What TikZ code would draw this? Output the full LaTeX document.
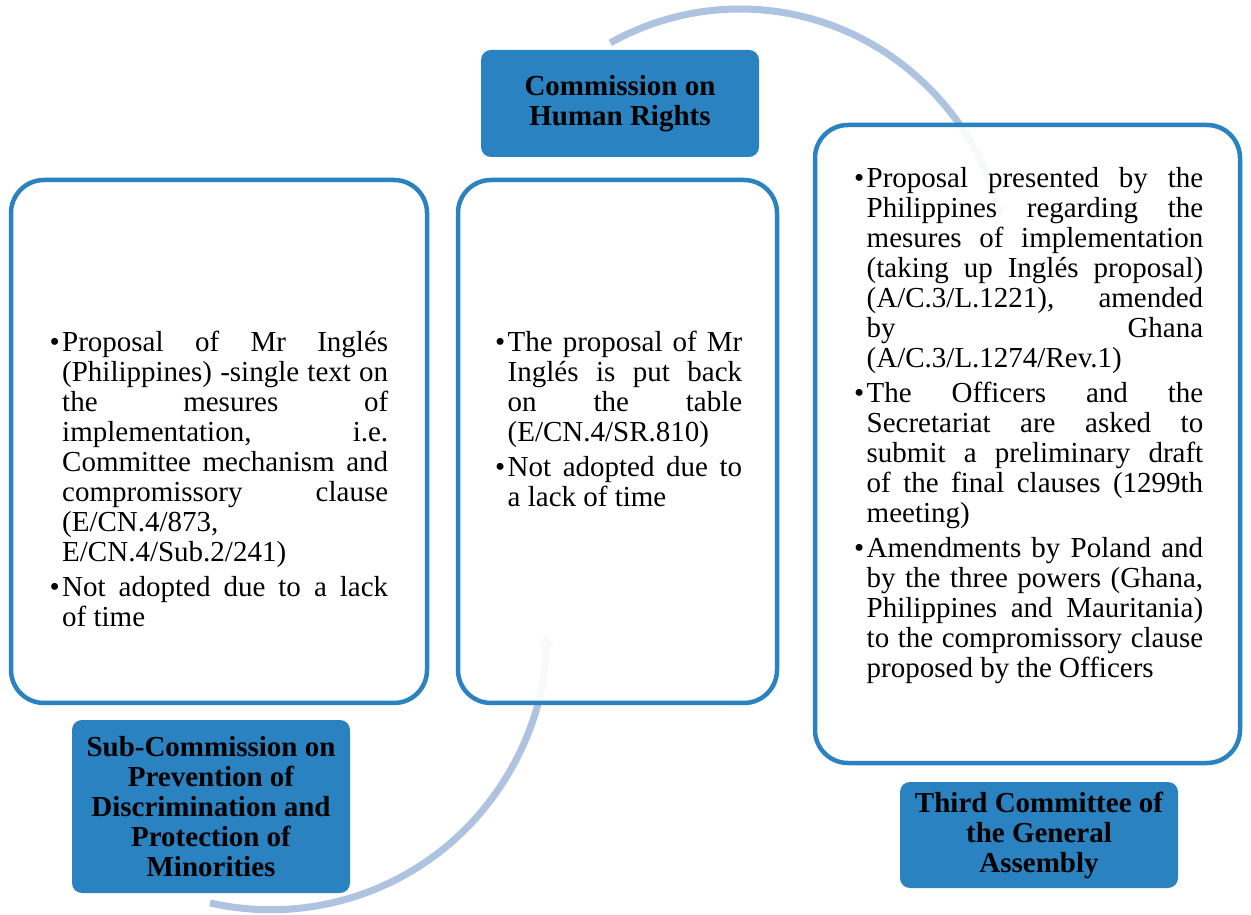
\documentclass[tikz,border=0pt]{standalone}
\usepackage{fontspec}
\setmainfont{Liberation Serif}
\usetikzlibrary{arrows.meta}
\definecolor{bord}{RGB}{42,130,192}
\definecolor{arcc}{RGB}{174,195,223}
\newlength\hangw
\setlength\hangw{12.5pt}
\newcommand\Jl[1]{\hbox to \hsize{\hskip\hangw\hbox to \dimexpr\hsize-\hangw\relax{\frenchspacing\spaceskip=.25em plus 1fil minus .05em\relax #1}}}
\newcommand\Nl[1]{\hbox to \hsize{\hskip\hangw #1\hfil}}
\newcommand\Bj[1]{\hbox to \hsize{\hbox to \hangw{•\hfil}\hbox to \dimexpr\hsize-\hangw\relax{\frenchspacing\spaceskip=.25em plus 1fil minus .05em\relax #1}}}
\begin{document}
\begin{tikzpicture}[x=1pt,y=1pt,
  whitebox/.style={draw=bord, line width=4.5pt, fill=white, fill opacity=0.91, rounded corners=33pt, inner sep=0pt},
  labelbox/.style={fill=bord, rounded corners=10pt, inner sep=0pt, align=center, text=black, font=\fontsize{29}{30}\selectfont\bfseries},
  bodytext/.style={anchor=base west, inner sep=0pt, font=\fontsize{29}{30}\selectfont},
  cyclearc/.style={draw=arcc, line width=7pt, -{Triangle[width=17pt,length=12pt]}}]
\useasboundingbox (0,0) rectangle (1251,914);
\fill[white] (0,0) rectangle (1251,914);
% arcs
\coordinate (ta) at (610.3,871.1);
\coordinate (ba) at (210.0,11.1);
\draw[cyclearc] (ta) arc[start angle=119.3, end angle=12, radius=265];
\draw[cyclearc] (ba) arc[start angle=257.2, end angle=360, radius=275];
% content boxes
\node[whitebox, minimum width=416pt, minimum height=523pt] (lbox) at (219,472.5) {};
\node[whitebox, minimum width=319pt, minimum height=523pt] (mbox) at (617.5,472.5) {};
\node[whitebox, minimum width=425pt, minimum height=638pt] (rbox) at (1027.5,470) {};
% label boxes
\node[labelbox, minimum width=278pt, minimum height=107pt] (chr) at (620,810.5) {Commission on\\Human Rights};
\node[labelbox, minimum width=278pt, minimum height=173pt] (sub) at (211,107.5) {Sub-Commission on\\Prevention of\\Discrimination and\\Protection of\\Minorities};
\node[labelbox, minimum width=278pt, minimum height=106pt] (tc) at (1039,79) {Third Committee of\\the General\\Assembly};
% texts
\node[bodytext] (ltext) at (49.5,562.5) {\vtop{\hsize=338.5pt \baselineskip=30pt \lineskiplimit=-100pt
\Bj{Proposal of Mr Inglés}
\Jl{(Philippines) -single text on}
\Jl{the mesures of}
\Jl{implementation, i.e.}
\Jl{Committee mechanism and}
\Jl{compromissory clause}
\Nl{(E/CN.4/873,}
\Nl{E/CN.4/Sub.2/241)}
\vskip5pt
\Bj{Not adopted due to a lack}
\Nl{of time}
}};
\node[bodytext] (mtext) at (495,562) {\vtop{\hsize=247pt \baselineskip=30pt \lineskiplimit=-100pt
\Bj{The proposal of Mr}
\Jl{Inglés is put back}
\Jl{on the table}
\Nl{(E/CN.4/SR.810)}
\vskip5pt
\Bj{Not adopted due to}
\Nl{a lack of time}
}};
\node[bodytext] (rtext) at (854,726) {\vtop{\hsize=349pt \baselineskip=30pt \lineskiplimit=-100pt
\Bj{Proposal presented by the}
\Jl{Philippines regarding the}
\Jl{mesures of implementation}
\Jl{(taking up Inglés proposal)}
\Jl{(A/C.3/L.1221), amended}
\Jl{by Ghana}
\Nl{(A/C.3/L.1274/Rev.1)}
\vskip5pt
\Bj{The Officers and the}
\Jl{Secretariat are asked to}
\Jl{submit a preliminary draft}
\Jl{of the final clauses (1299th}
\Nl{meeting)}
\vskip5pt
\Bj{Amendments by Poland and}
\Jl{by the three powers (Ghana,}
\Jl{Philippines and Mauritania)}
\Jl{to the compromissory clause}
\Nl{proposed by the Officers}
}};
\end{tikzpicture}
\end{document}
